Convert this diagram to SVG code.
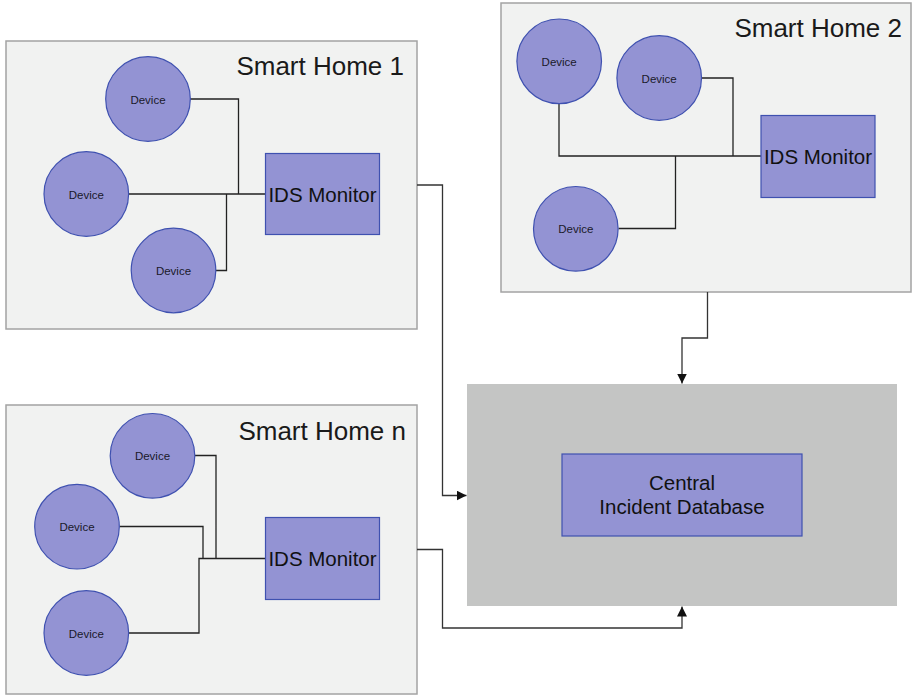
<svg xmlns="http://www.w3.org/2000/svg" width="913" height="695" viewBox="0 0 913 695">
  <style>
    .home { fill: #f1f2f1; stroke: #a3a3a3; stroke-width: 1.5; }
    .central { fill: #c4c5c4; }
    .node { fill: #9393d3; stroke: #3f51b0; stroke-width: 1.2; }
    .title { font-family: "Liberation Sans", Arial, sans-serif; font-size: 26px; fill: #1a1a1a; text-anchor: end; }
    .dev { font-family: "Liberation Sans", Arial, sans-serif; font-size: 11.5px; fill: #1a1a2a; text-anchor: middle; }
    .ids { font-family: "Liberation Sans", Arial, sans-serif; font-size: 20.5px; fill: #111; text-anchor: middle; }
    .wire { fill: none; stroke: #222; stroke-width: 1.3; }
    .link { fill: none; stroke: #333; stroke-width: 1.3; }
  </style>
  <defs>
    <marker id="arrow" viewBox="0 0 10 10" refX="10" refY="5" markerWidth="10" markerHeight="10" markerUnits="userSpaceOnUse" orient="auto">
      <path d="M0,0 L10,5 L0,10 z" fill="#111"/>
    </marker>
  </defs>

  <rect width="913" height="695" fill="#ffffff"/>

  <!-- Smart Home 1 -->
  <g id="home1">
    <rect class="home" x="6" y="41" width="411" height="288"/>
    <text class="title" x="404" y="75">Smart Home 1</text>
  </g>
  <!-- Smart Home 2 -->
  <g id="home2">
    <rect class="home" x="501" y="3" width="410" height="289"/>
    <text class="title" x="902" y="37">Smart Home 2</text>
  </g>
  <!-- Smart Home n -->
  <g id="homeN">
    <rect class="home" x="6" y="405" width="411" height="289"/>
    <text class="title" x="406" y="440">Smart Home n</text>
  </g>
  <!-- Central area -->
  <g id="central">
    <rect class="central" x="467" y="384" width="430" height="222"/>
  </g>

  <!-- Connectors -->
  <g id="connectors">
    <!-- home 1 wiring -->
    <path class="wire" d="M190,99 H238.5 V194 M128.5,194 H265.5 M215.5,270.5 H226.5 V194"/>
    <!-- home 2 wiring -->
    <path class="wire" d="M559,103.5 V156 H761 M701.5,78 H733 V156 M618.5,228.5 H675.5 V156"/>
    <!-- home n wiring -->
    <path class="wire" d="M195,455.5 H216 V558.5 M119.5,526.5 H203 V558.5 M128.5,633 H199 V558.5 H265.5"/>
    <!-- uplinks to central database -->
    <path class="link" marker-end="url(#arrow)" d="M417,185 H442.5 V495.5 H466.5"/>
    <path class="link" marker-end="url(#arrow)" d="M707.5,292 V338 H682 V383.5"/>
    <path class="link" marker-end="url(#arrow)" d="M417,549.5 H442.5 V628 H682 V606.5"/>
  </g>

  <!-- Home 1 nodes -->
  <g id="h1-dev1"><circle class="node" cx="148" cy="99" r="42.3"/><text class="dev" x="148" y="103.5">Device</text></g>
  <g id="h1-dev2"><circle class="node" cx="86.3" cy="194" r="42.3"/><text class="dev" x="86.3" y="198.5">Device</text></g>
  <g id="h1-dev3"><circle class="node" cx="173.5" cy="270.5" r="42.3"/><text class="dev" x="173.5" y="275">Device</text></g>
  <g id="h1-ids"><rect class="node" x="265.5" y="153.5" width="114" height="81"/><text class="ids" x="322.5" y="201.5">IDS Monitor</text></g>

  <!-- Home 2 nodes -->
  <g id="h2-dev1"><circle class="node" cx="559.2" cy="61.3" r="42.3"/><text class="dev" x="559.2" y="65.8">Device</text></g>
  <g id="h2-dev2"><circle class="node" cx="659.2" cy="78" r="42.3"/><text class="dev" x="659.2" y="82.5">Device</text></g>
  <g id="h2-dev3"><circle class="node" cx="575.8" cy="228.8" r="42.3"/><text class="dev" x="575.8" y="233.3">Device</text></g>
  <g id="h2-ids"><rect class="node" x="761" y="115.5" width="114" height="82"/><text class="ids" x="818" y="163.5">IDS Monitor</text></g>

  <!-- Home n nodes -->
  <g id="hn-dev1"><circle class="node" cx="152.5" cy="455.8" r="42.3"/><text class="dev" x="152.5" y="460.3">Device</text></g>
  <g id="hn-dev2"><circle class="node" cx="77" cy="526.7" r="42.3"/><text class="dev" x="77" y="531.2">Device</text></g>
  <g id="hn-dev3"><circle class="node" cx="86.3" cy="633" r="42.3"/><text class="dev" x="86.3" y="637.5">Device</text></g>
  <g id="hn-ids"><rect class="node" x="265.5" y="517.5" width="114" height="82"/><text class="ids" x="322.5" y="565.5">IDS Monitor</text></g>

  <!-- Central database node -->
  <g id="database">
    <rect class="node" x="562" y="454" width="240" height="82"/>
    <text class="ids" x="682" y="490">Central</text>
    <text class="ids" x="682" y="514">Incident Database</text>
  </g>
</svg>
